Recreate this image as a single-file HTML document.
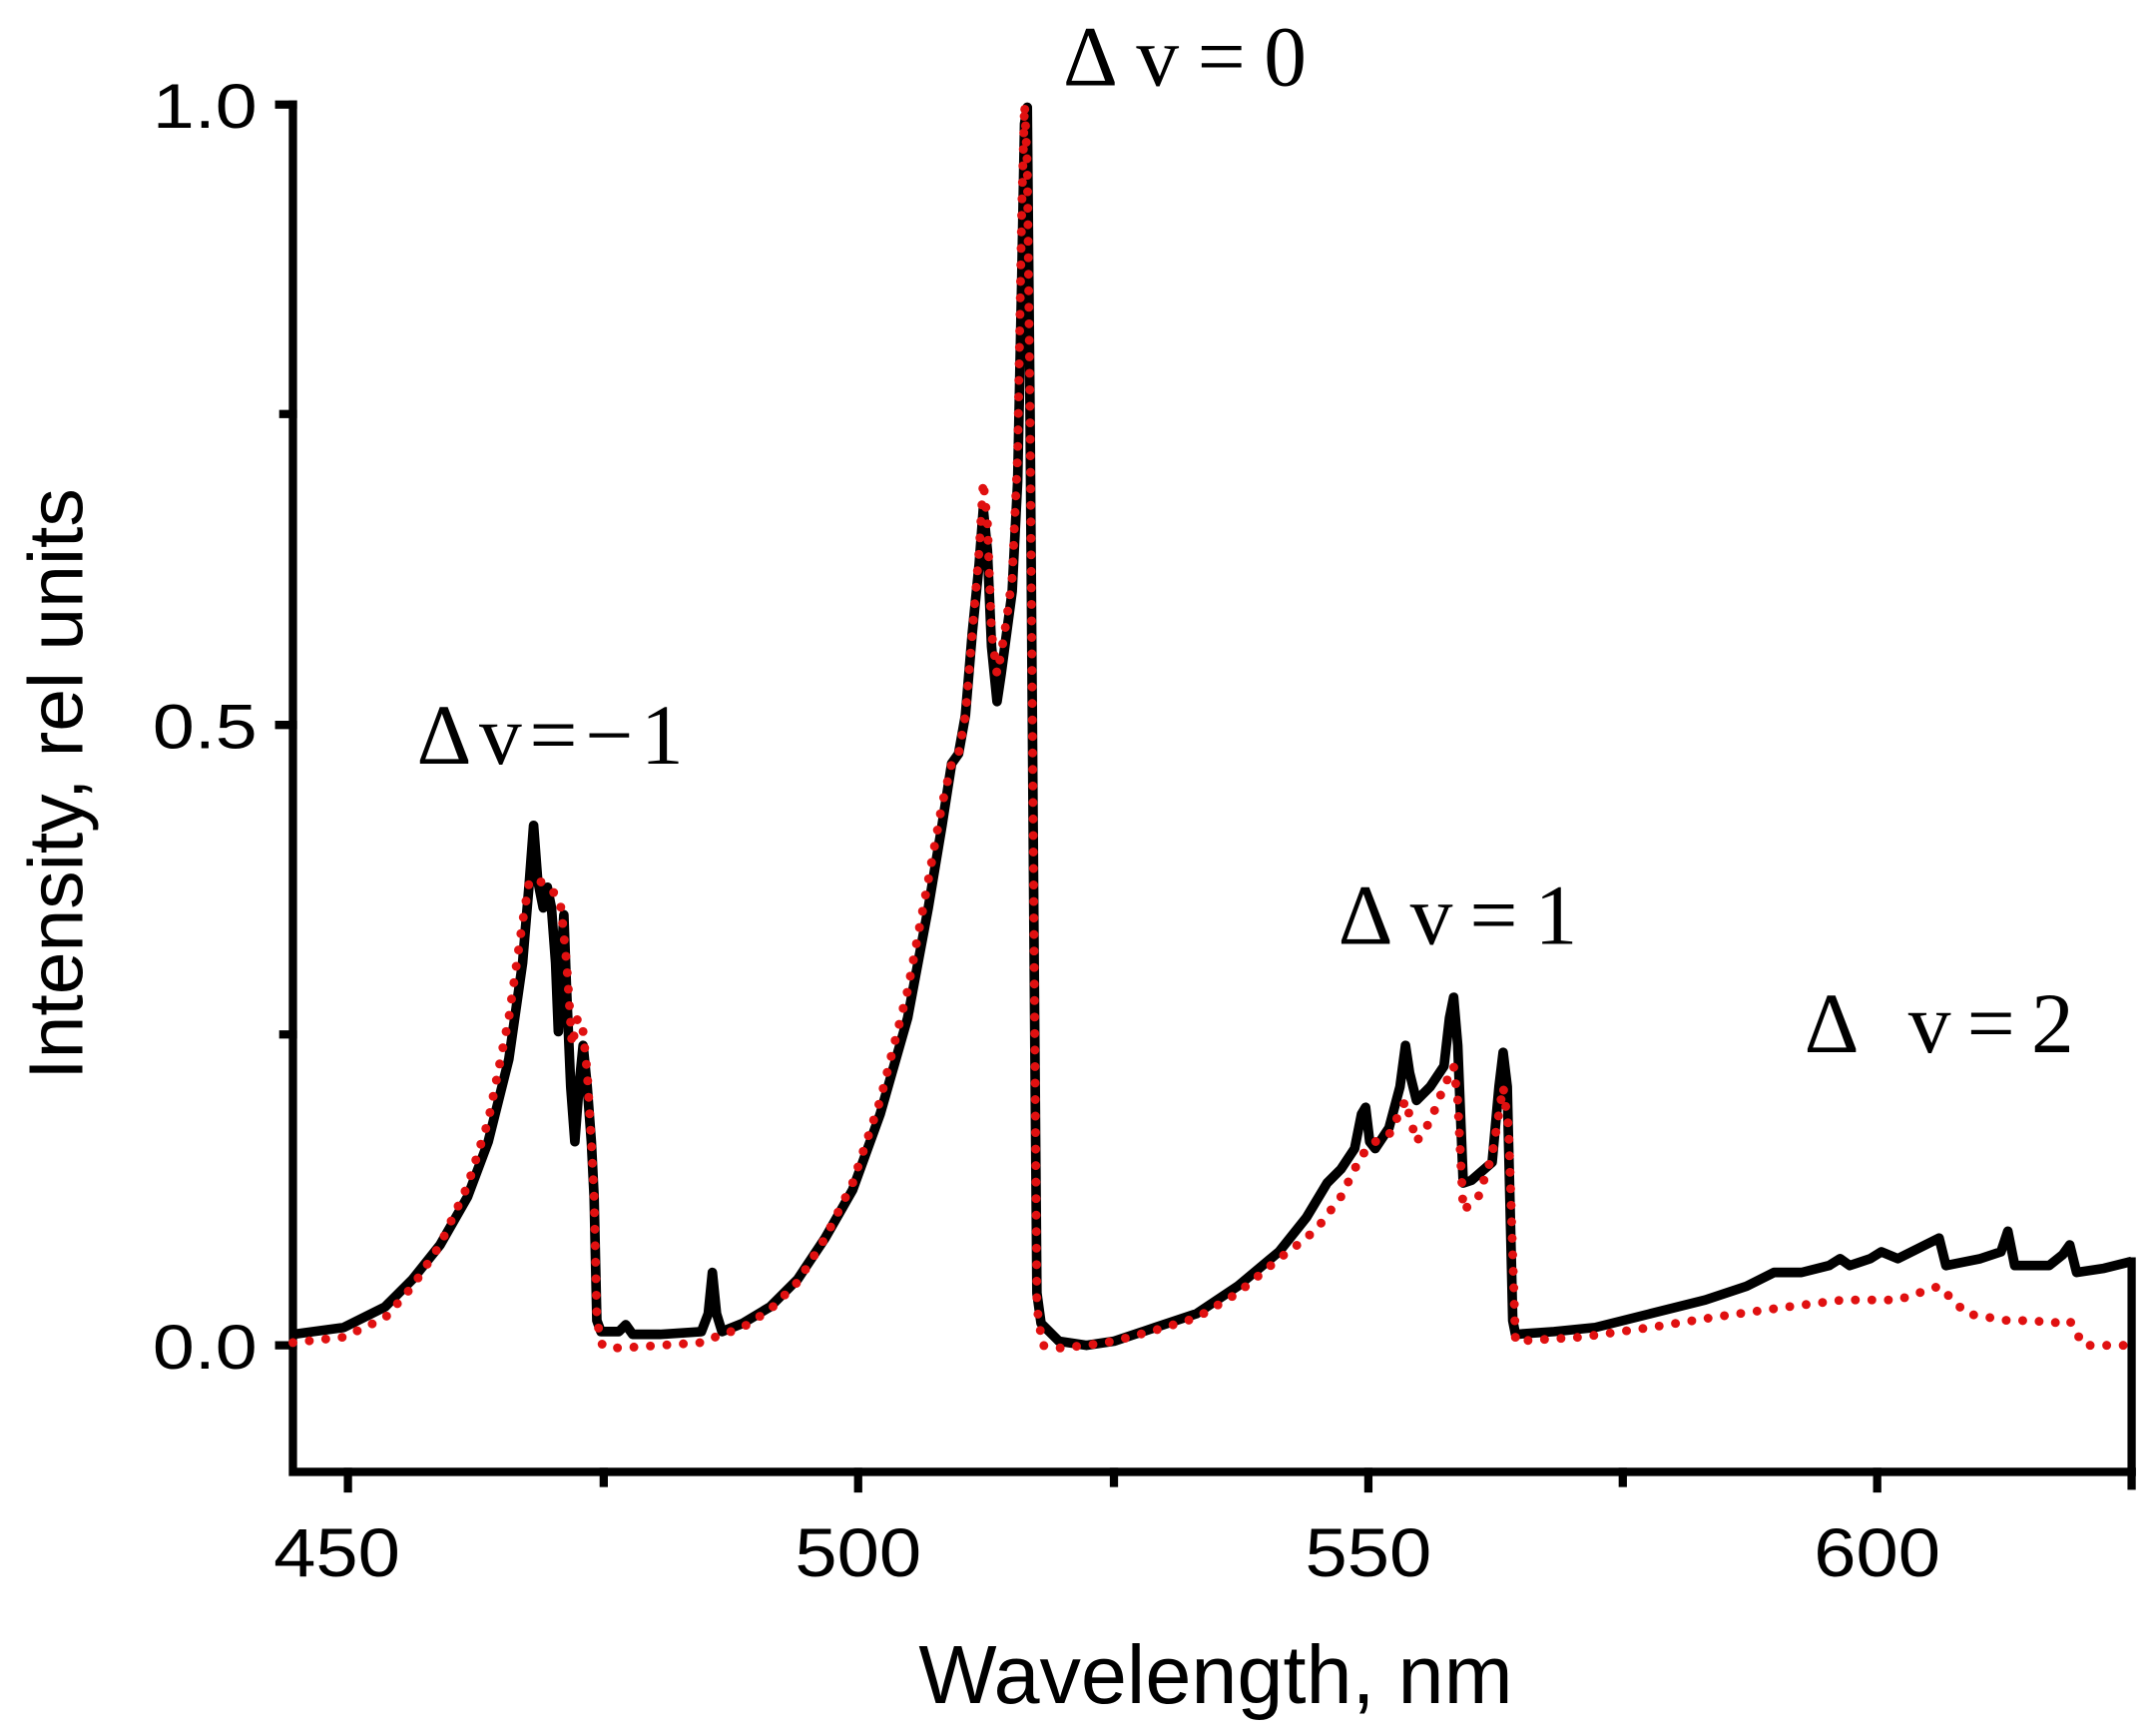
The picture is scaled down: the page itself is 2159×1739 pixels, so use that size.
<!DOCTYPE html>
<html><head><meta charset="utf-8"><style>
html,body{margin:0;padding:0;background:#fff}
svg{display:block}
</style></head><body>
<svg width="2159" height="1739" viewBox="0 0 1567 1262" preserveAspectRatio="none" xmlns="http://www.w3.org/2000/svg">
<rect width="1567" height="1262" fill="#fff"/>
<g stroke="#000" stroke-width="6" fill="none" stroke-linecap="square">
<path d="M213,76 L213,1070 L1550,1070"/>
<path d="M213,76 h-10 M213,527 h-10 M213,978 h-10 M213,301 h-7 M213,752 h-7"/>
<path d="M253,1070 v12 M624,1070 v12 M995,1070 v12 M1365,1070 v12 M439,1070 v8 M810,1070 v8 M1180,1070 v8 M1550,1070 v10"/>
<path d="M1550,1070 L1550,917"/>
</g>
<g font-family="Liberation Sans, sans-serif" font-size="46" fill="#000">
<text x="187" y="93" text-anchor="end" textLength="76" lengthAdjust="spacingAndGlyphs">1.0</text>
<text x="187" y="544" text-anchor="end" textLength="76" lengthAdjust="spacingAndGlyphs">0.5</text>
<text x="187" y="995" text-anchor="end" textLength="76" lengthAdjust="spacingAndGlyphs">0.0</text>
<text x="245" y="1146" text-anchor="middle" font-size="50" textLength="92" lengthAdjust="spacingAndGlyphs">450</text>
<text x="624" y="1146" text-anchor="middle" font-size="50" textLength="92" lengthAdjust="spacingAndGlyphs">500</text>
<text x="995" y="1146" text-anchor="middle" font-size="50" textLength="92" lengthAdjust="spacingAndGlyphs">550</text>
<text x="1365" y="1146" text-anchor="middle" font-size="50" textLength="92" lengthAdjust="spacingAndGlyphs">600</text>
<text x="884" y="1238" text-anchor="middle" font-size="60" textLength="432" lengthAdjust="spacingAndGlyphs">Wavelength, nm</text>
<text transform="translate(60,570) rotate(-90)" text-anchor="middle" font-size="56" textLength="430" lengthAdjust="spacingAndGlyphs">Intensity, rel units</text>
</g>
<g font-family="Liberation Serif, serif" font-size="62" fill="#000">
<text x="303" y="555" textLength="194" lengthAdjust="spacing">Δv=−1</text>
<text x="773" y="62" textLength="177" lengthAdjust="spacing">Δv=0</text>
<text x="973" y="686" textLength="174" lengthAdjust="spacing">Δv=1</text>
<text x="1312" y="765" textLength="196" lengthAdjust="spacing">Δ v=2</text>
</g>
<polyline fill="none" stroke="#000" stroke-width="7" stroke-linejoin="round" points="213,970 250,965 280,950 300,930 320,905 340,870 355,830 370,770 380,700 385,640 388,600 391,640 395,660 398,645 401,660 404,700 406,750 408,700 410,665 412,720 415,790 418,830 421,790 424,760 427,790 430,830 432,870 434,960 437,968 450,968 455,963 460,970 480,970 510,968 515,955 518,925 521,955 525,968 540,962 560,950 580,930 600,900 620,865 640,810 660,740 675,660 685,600 692,555 697,548 702,520 707,460 712,410 715,370 718,400 721,470 725,510 728,490 732,460 736,430 740,350 743,200 745,90 747,78 749,300 752,700 754,940 757,962 770,975 790,978 810,975 840,965 870,955 900,935 930,910 950,885 965,860 975,850 985,835 990,810 993,805 996,830 1000,835 1010,820 1018,790 1022,760 1025,780 1030,800 1040,790 1050,775 1054,740 1057,725 1060,760 1064,860 1070,858 1085,845 1090,790 1093,765 1096,790 1100,960 1102,970 1130,968 1160,965 1200,955 1240,945 1270,935 1290,925 1310,925 1330,920 1338,915 1345,920 1360,915 1368,910 1380,915 1400,905 1410,900 1415,920 1440,915 1455,910 1460,895 1465,920 1490,920 1500,912 1505,905 1510,925 1530,922 1550,917"/>
<polyline fill="none" stroke="#e01010" stroke-width="6.5" stroke-linecap="round" stroke-dasharray="0 12" points="213,976 250,972 280,958 300,935 320,905 340,862 355,815 370,740 380,670 385,640 392,640 398,645 404,650 408,660 412,700 416,760 420,740 424,750 427,780 430,830 432,870 434,960 438,978 450,980 480,978 510,976 520,972 540,965 560,952 580,932 600,900 620,860 640,800 660,720 675,640 685,585 692,555 697,548 702,520 707,460 712,400 715,350 718,380 721,460 725,490 728,475 732,450 736,420 740,330 743,150 745,76 747,120 749,300 752,700 754,950 758,978 770,980 790,978 810,975 840,967 870,958 900,940 930,915 950,900 960,890 975,870 990,840 1000,830 1010,825 1022,800 1030,830 1040,815 1050,790 1057,775 1060,800 1064,880 1075,870 1085,840 1093,790 1097,820 1102,975 1150,972 1200,965 1250,957 1300,950 1340,945 1380,945 1410,935 1430,955 1460,960 1480,960 1490,962 1505,960 1515,978 1550,978"/>
</svg>
</body></html>
